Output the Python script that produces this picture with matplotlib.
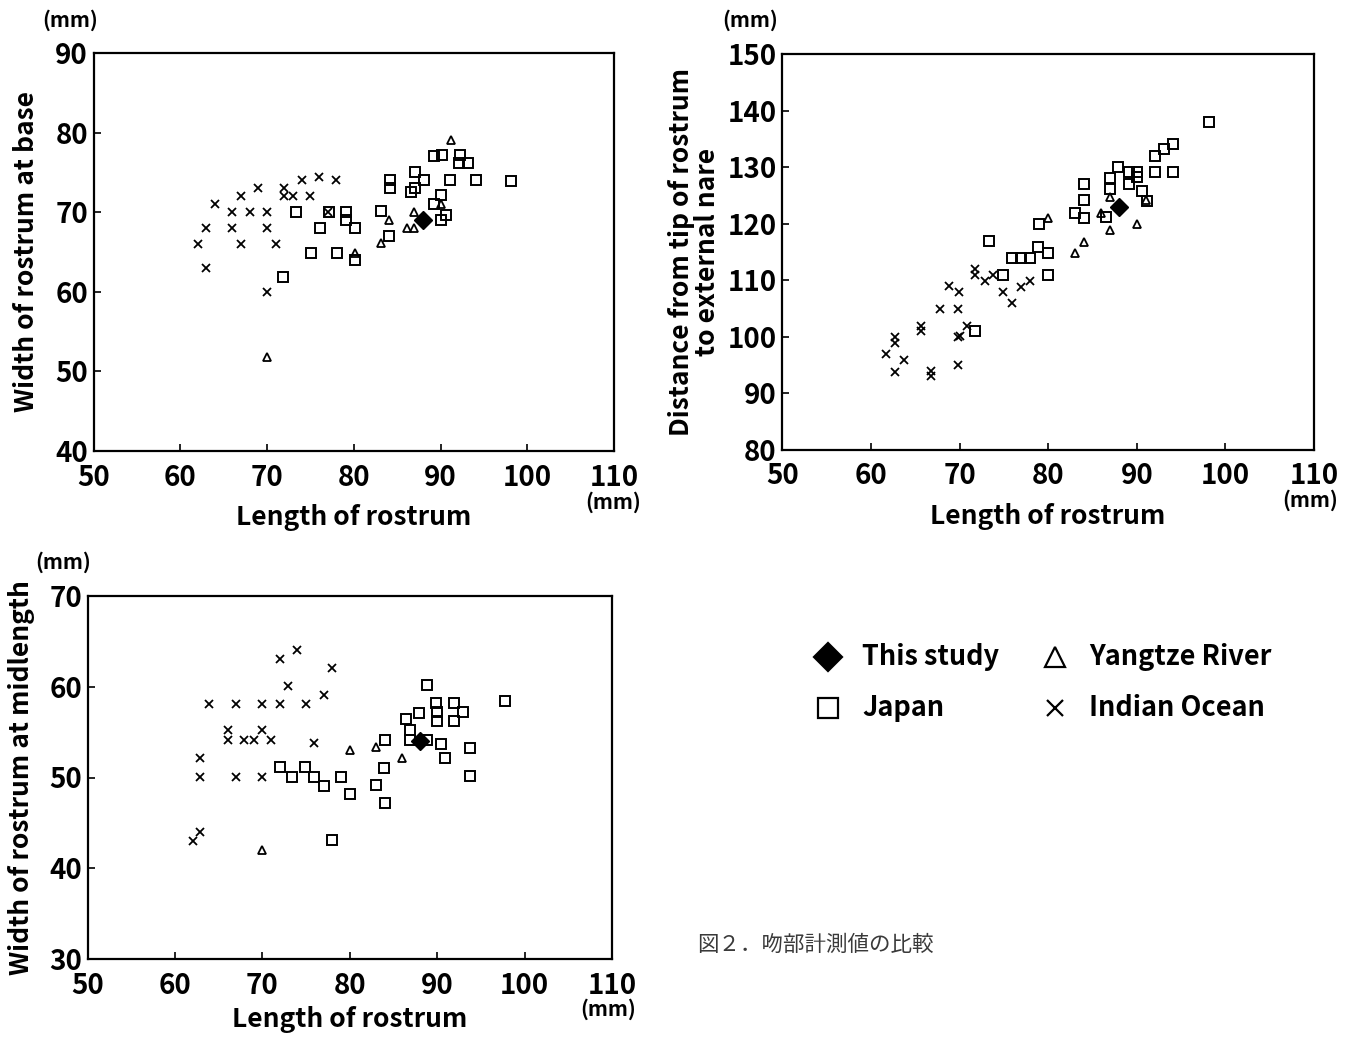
import numpy as np
import matplotlib
matplotlib.use("Agg")
from matplotlib import pyplot as plt

plt.rcParams['font.family'] = ['Noto Sans CJK JP', 'DejaVu Sans']
plt.rcParams['font.weight'] = 'bold'

# ---- panel 1 : width of rostrum at base ----
p1_this_x = [88]
p1_this_y = [69]
p1_jp_x = [89.3, 90.2, 92.2, 92.1, 93.2, 87.1, 84.2, 84.2, 88.1, 87.1, 86.6, 91.1, 94.1, 98.1, 90.1,
           89.2, 90.6, 90.1, 73.4, 77.2, 79.1, 79.1, 83.1, 76.1, 80.2, 84.1, 75.1, 78.1, 80.2, 71.9]
p1_jp_y = [77.1, 77.2, 77.2, 76.2, 76.2, 75.1, 74.1, 73.0, 74.0, 73.0, 72.5, 74.1, 74.1, 73.9, 72.1,
           71.0, 69.6, 69.0, 70.0, 70.0, 70.0, 69.0, 70.1, 68.0, 68.0, 67.0, 64.9, 64.9, 64.0, 61.9]
p1_yz_x = [91.2, 90.1, 84.1, 87.0, 86.1, 87.0, 83.1, 80.2, 70.0]
p1_yz_y = [79.1, 71.0, 69.0, 70.0, 68.0, 68.0, 66.1, 64.9, 51.8]
p1_io_x = [64, 67, 69, 72, 72, 73, 74, 76, 78, 75, 66, 68, 70, 63, 66, 70, 62, 67, 71, 63, 70, 77]
p1_io_y = [71, 72, 73, 73, 72, 72, 74, 74.4, 74, 72, 70, 70, 70, 68, 68, 68, 66, 66, 66, 63, 60, 70]

# ---- panel 2 : distance from tip of rostrum to external nare ----
p2_this_x = [88]
p2_this_y = [123]
p2_jp_x = [98.1, 94.1, 93.1, 92.1, 87.9, 89.1, 90.0, 90.0, 92.1, 94.1, 87.0, 89.1, 87.0, 90.6, 91.1,
           84.0, 84.0, 83.0, 84.1, 86.5, 79.0, 73.3, 78.9, 80.0, 75.9, 76.9, 77.9, 74.9, 80.0, 71.8]
p2_jp_y = [137.9, 134.1, 133.2, 132.0, 130.1, 129.1, 129.1, 128.2, 129.1, 129.1, 128.0, 127.1, 126.1,
           125.8, 124.0, 127.0, 124.2, 121.9, 121.0, 121.1, 119.9, 116.9, 115.9, 114.9, 113.9, 113.9,
           113.9, 111.0, 111.0, 101.0]
p2_yz_x = [87.0, 91.0, 86.0, 80.0, 87.0, 90.0, 84.0, 83.0]
p2_yz_y = [124.8, 124.2, 121.9, 121.0, 118.9, 119.9, 116.8, 114.8]
p2_io_x = [71.8, 71.8, 72.9, 73.8, 68.8, 69.9, 74.9, 75.9, 76.9, 77.9, 67.8, 69.8, 70.8, 69.8, 70.0,
           65.7, 65.7, 62.7, 62.7, 61.7, 63.7, 62.7, 66.8, 66.8, 69.8]
p2_io_y = [112.0, 110.9, 109.9, 110.9, 109.0, 107.9, 107.9, 106.0, 108.9, 109.9, 104.9, 104.9, 101.9,
           100.0, 100.2, 102.0, 101.1, 100.0, 99.0, 96.9, 95.9, 93.8, 94.0, 93.0, 95.0]

# ---- panel 3 : width of rostrum at midlength ----
p3_this_x = [88]
p3_this_y = [54]
p3_jp_x = [88.8, 89.9, 91.9, 97.8, 87.9, 90.0, 92.9, 86.4, 90.0, 91.9, 86.9, 86.9, 88.8, 84.0, 90.4,
           93.8, 90.9, 83.9, 72.0, 74.9, 73.4, 75.9, 79.0, 77.0, 83.0, 80.0, 84.0, 93.8, 78.0]
p3_jp_y = [60.2, 58.2, 58.2, 58.4, 57.1, 57.2, 57.2, 56.5, 56.2, 56.2, 55.2, 54.1, 54.1, 54.1, 53.7,
           53.2, 52.2, 51.1, 51.2, 51.2, 50.1, 50.1, 50.1, 49.1, 49.2, 48.2, 47.2, 50.2, 43.1]
p3_yz_x = [80, 83, 86, 70]
p3_yz_y = [53.0, 53.4, 52.1, 42.0]
p3_io_x = [73.9, 72.0, 78.0, 72.9, 77.0, 63.9, 67.0, 69.9, 72.0, 75.0, 66.0, 69.9, 66.0, 67.9, 69.0,
           71.0, 75.9, 62.9, 62.9, 67.0, 69.9, 62.9, 62.0]
p3_io_y = [64.1, 63.1, 62.1, 60.1, 59.1, 58.1, 58.1, 58.1, 58.1, 58.1, 55.2, 55.2, 54.1, 54.1, 54.1,
           54.1, 53.8, 52.1, 50.1, 50.1, 50.1, 44.0, 43.0]

xticks = [50, 60, 70, 80, 90, 100, 110]

W, H = 1352, 1037
fig = plt.figure(figsize=(W / 100, H / 100), dpi=100)


def box(l, t, r, b):
    return [l / W, 1 - b / H, (r - l) / W, (b - t) / H]


def ftext(px, py, s, **kw):
    fig.text(px / W, 1 - py / H, s, **kw)


def panel(rect, series, ylim, yticks, ylabel, ylab_x, mm_top, mm_bot, xpad=9):
    ax = fig.add_axes(rect)
    this_x, this_y, jp_x, jp_y, yz_x, yz_y, io_x, io_y = series
    ax.plot(io_x, io_y, 'x', color='black', ms=6, mew=1.3, ls='none')
    ax.plot(jp_x, jp_y, 's', mfc='none', mec='black', ms=6.5, mew=1.4, ls='none')
    ax.plot(yz_x, yz_y, '^', mfc='none', mec='black', ms=6, mew=1.3, ls='none')
    ax.plot(this_x, this_y, 'D', color='black', ms=9, ls='none')
    ax.set_xlim(50, 110)
    ax.set_ylim(*ylim)
    ax.set_xticks(xticks)
    ax.set_yticks(yticks)
    ax.tick_params(direction='in', length=5, width=1.2, labelsize=20)
    ax.tick_params(axis='x', pad=9)
    ax.tick_params(axis='y', pad=4)
    for s in ax.spines.values():
        s.set_linewidth(1.6)
    ax.set_xlabel('Length of rostrum', fontsize=19, fontweight='bold', labelpad=xpad)
    ax.set_ylabel(ylabel, fontsize=19, fontweight='bold', linespacing=0.95)
    ax.yaxis.set_label_coords(ylab_x, 0.5)
    ftext(*mm_top, '(mm)', fontsize=15, ha='center', va='center')
    ftext(*mm_bot, '(mm)', fontsize=15, ha='center', va='center')
    return ax


panel(box(93.5, 53, 614, 451),
      (p1_this_x, p1_this_y, p1_jp_x, p1_jp_y, p1_yz_x, p1_yz_y, p1_io_x, p1_io_y),
      (40, 90), [40, 50, 60, 70, 80, 90], 'Width of rostrum at base', -0.102,
      (70, 20), (613, 502))
panel(box(782.3, 54, 1314, 450),
      (p2_this_x, p2_this_y, p2_jp_x, p2_jp_y, p2_yz_x, p2_yz_y, p2_io_x, p2_io_y),
      (80, 150), [80, 90, 100, 110, 120, 130, 140, 150],
      'Distance from tip of rostrum\nto external nare', -0.115,
      (750, 20), (1310, 500))
panel(box(87.7, 596, 612, 959),
      (p3_this_x, p3_this_y, p3_jp_x, p3_jp_y, p3_yz_x, p3_yz_y, p3_io_x, p3_io_y),
      (30, 70), [30, 40, 50, 60, 70], 'Width of rostrum at midlength', -0.10,
      (63, 562), (608, 1009), xpad=5)

# legend
legend_rows = [('D', 'black', 'This study', 828, 657), ('^', 'none', 'Yangtze River', 1055, 657),
               ('s', 'none', 'Japan', 828, 708), ('x', 'black', 'Indian Ocean', 1055, 708)]
for m, fc, lab, px, py in legend_rows:
    fig.lines.append(plt.Line2D([px / W], [1 - py / H], marker=m, mfc=fc, mec='black',
                                color='black', ms=14 if m != 'x' else 12, mew=1.6,
                                ls='none', transform=fig.transFigure))
    ftext(px + 34, py, lab, fontsize=19.5, ha='left', va='center')

ftext(697, 945, '図２．吻部計測値の比較', fontsize=15.5, color='#3a3a3a',
      ha='left', va='center', fontweight='normal')

fig.savefig('out.png', dpi=100)
